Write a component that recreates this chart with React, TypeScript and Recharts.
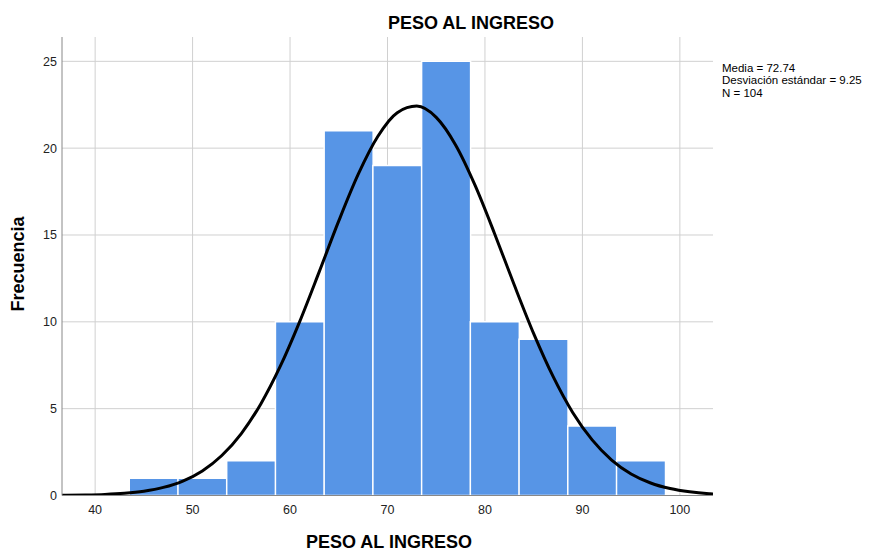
import { ComposedChart, Bar, Line, XAxis, YAxis, CartesianGrid } from 'recharts';

// histogram bins (centre of each 5 kg class) and their counts
const binCenters = [46, 51, 56, 61, 66, 71, 76, 81, 86, 91, 96];
const frequencies = [1, 1, 2, 10, 21, 19, 25, 10, 9, 4, 2];

// normal curve
const curveX = [
  36.6, 37, 39, 41, 43, 45, 47, 49, 51, 53, 55, 57, 59, 61, 63, 65, 67, 69, 71,
  73, 75, 77, 79, 81, 83, 85, 87, 89, 91, 93, 95, 97, 99, 101, 103, 103.4,
];
const curveY = [
  0.011, 0.013, 0.029, 0.062, 0.128, 0.25, 0.467, 0.833, 1.417, 2.302, 3.567,
  5.274, 7.443, 10.03, 12.89, 15.81, 18.5, 20.67, 22.04, 22.42, 21.77, 20.17,
  17.84, 15.06, 12.13, 9.32, 6.84, 4.78, 3.2, 2.04, 1.24, 0.72, 0.399, 0.211,
  0.106, 0.092,
];

const xTicks = [40, 50, 60, 70, 80, 90, 100];
const yTicks = [0, 5, 10, 15, 20, 25];
const stats = ['Media = 72.74', 'Desviación estándar = 9.25', 'N = 104'];

const title = 'PESO AL INGRESO';
const xLabel = 'PESO AL INGRESO';
const yLabel = 'Frecuencia';

const bins = binCenters.map((x, i) => ({ x, count: frequencies[i] }));
const curve = curveX.map((x, i) => ({ x, y: curveY[i] }));

const FONT = '"Liberation Sans", Arial, sans-serif';

export default function App() {
  return (
    <div
      style={{
        position: 'absolute',
        left: 0,
        top: 0,
        width: 874,
        height: 551,
        background: '#fff',
        fontFamily: FONT,
      }}
    >
      <ComposedChart
        width={874}
        height={551}
        data={bins}
        margin={{ top: 37, right: 161, bottom: 25.5, left: 22 }}
        barCategoryGap={0}
        barGap={0}
      >
        {/* syncWithTicks: no extra lines at the plot edges */}
        <CartesianGrid stroke="#d0d0d0" syncWithTicks />
        <XAxis
          type="number"
          dataKey="x"
          domain={[36.6, 103.4]}
          ticks={xTicks}
          interval={0}
          allowDataOverflow
          tickLine={false}
          tickSize={0}
          tickMargin={10}
          height={30}
          axisLine={{ stroke: '#888' }}
          tick={{ fill: '#222', fontSize: 12.5, fontFamily: FONT }}
        />
        <XAxis
          xAxisId="bins"
          type="number"
          dataKey="x"
          domain={[36.6, 103.4]}
          allowDataOverflow
          hide
        />
        <YAxis
          type="number"
          domain={[0, 26.4]}
          ticks={yTicks}
          interval={0}
          allowDataOverflow
          tickLine={false}
          tickSize={0}
          tickMargin={5}
          width={40}
          axisLine={{ stroke: '#888' }}
          tick={{ fill: '#222', fontSize: 12.5, fontFamily: FONT }}
        />
        <Bar
          xAxisId="bins"
          dataKey="count"
          fill="#5795e6"
          stroke="#fff"
          strokeWidth={1.5}
          isAnimationActive={false}
        />
        <Line
          data={curve}
          dataKey="y"
          type="monotone"
          stroke="#000"
          strokeWidth={3}
          dot={false}
          activeDot={false}
          isAnimationActive={false}
        />
      </ComposedChart>

      <svg
        width={874}
        height={551}
        style={{ position: 'absolute', left: 0, top: 0, pointerEvents: 'none' }}
      >
        <text x={471} y={29} textAnchor="middle" fontSize={18} fontWeight="bold" fill="#000">
          {title}
        </text>
        <text x={389} y={548} textAnchor="middle" fontSize={18} fontWeight="bold" fill="#000">
          {xLabel}
        </text>
        <text
          transform="translate(24, 264) rotate(-90)"
          textAnchor="middle"
          fontSize={18}
          fontWeight="bold"
          fill="#000"
        >
          {yLabel}
        </text>
        {stats.map((s, i) => (
          <text key={s} x={722} y={71.5 + i * 12.5} fontSize={11.5} fill="#000">
            {s}
          </text>
        ))}
      </svg>
    </div>
  );
}
